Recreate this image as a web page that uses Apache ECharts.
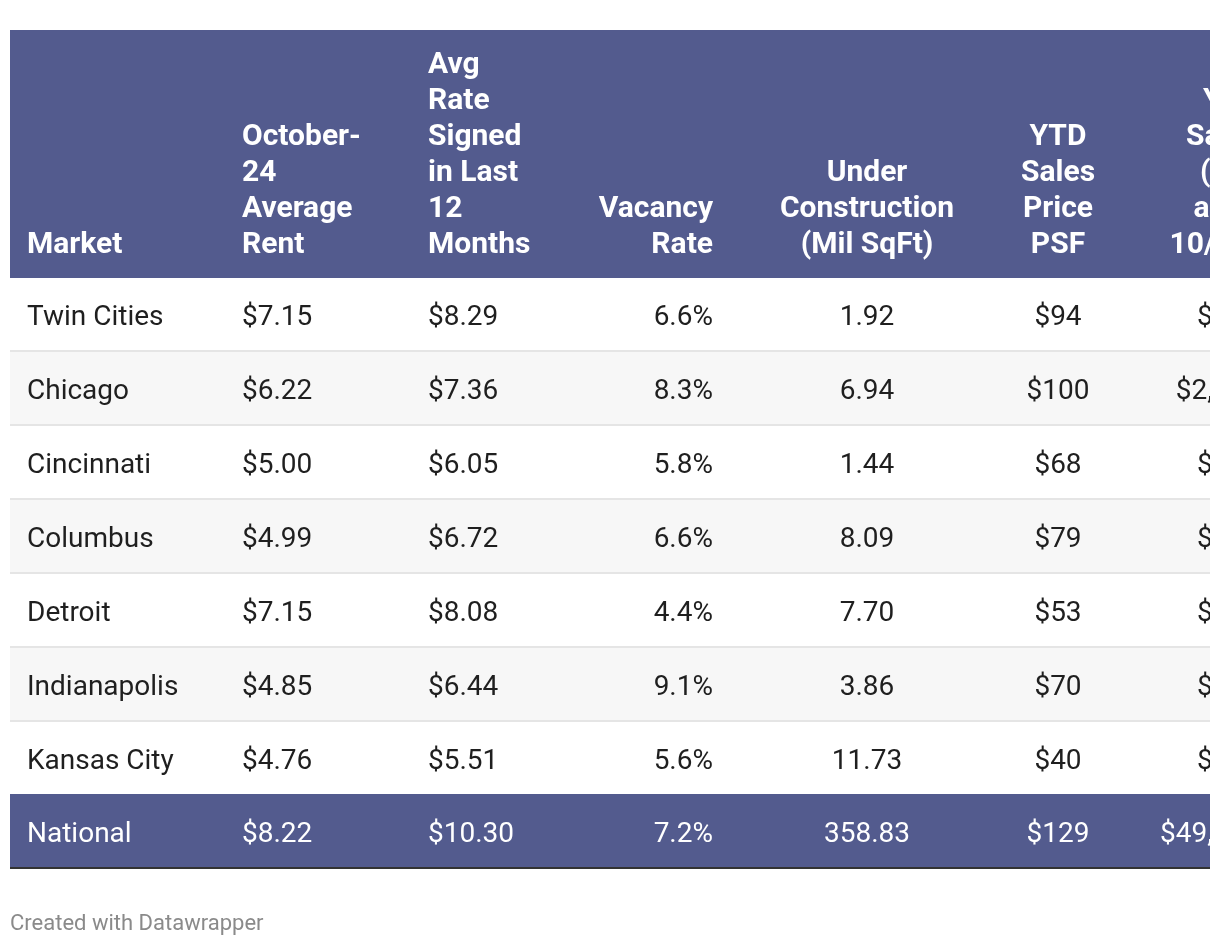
<!DOCTYPE html>
<html><head><meta charset="utf-8">
<script src="https://cdn.jsdelivr.net/npm/echarts@6/dist/echarts.min.js"></script>
<style>html,body{margin:0;padding:0;background:#fff;} #c{width:1210px;height:946px;}</style>
</head><body><div id="c"></div>
<script>
// ---- data ----
const headers = ['Market', 'October-\n24\nAverage\nRent', 'Avg\nRate\nSigned\nin Last\n12\nMonths', 'Vacancy\nRate', 'Under\nConstruction\n(Mil SqFt)', 'YTD\nSales\nPrice\nPSF', 'YTD\nSales\n(Mil,\nas of\n10/31)'];
const markets = ['Twin Cities', 'Chicago', 'Cincinnati', 'Columbus', 'Detroit', 'Indianapolis', 'Kansas City', 'National'];
const avgRent = [7.15, 6.22, 5.00, 4.99, 7.15, 4.85, 4.76, 8.22];
const avgRate12 = [8.29, 7.36, 6.05, 6.72, 8.08, 6.44, 5.51, 10.30];
const vacancy = [6.6, 8.3, 5.8, 6.6, 4.4, 9.1, 5.6, 7.2];
const underConstruction = [1.92, 6.94, 1.44, 8.09, 7.70, 3.86, 11.73, 358.83];
const ytdPricePsf = [94, 100, 68, 79, 53, 70, 40, 129];
const ytdSales = [512, 2135, 398, 621, 436, 587, 472, 49231]; // mostly cut off in the reference

// ---- layout / style ----
const TABLE_W = 1400;
const HEADER_H = 248;
const ROW_H = 74;
const TOTAL_H = HEADER_H + ROW_H * markets.length;
const COLS = [
  {x: 17, align: 'left'},
  {x: 232, align: 'left'},
  {x: 418, align: 'left'},
  {x: 703, align: 'right'},
  {x: 857, align: 'center'},
  {x: 1048, align: 'center'},
  {x: 1250, align: 'right'}
];
const HEADER_BG = '#535b8e';
const ALT_BG = '#f7f7f7';
const SEP = '#e5e5e5';
const TEXT = '#1f1f1f';
const FONT = '28px Roboto';
const BFONT = 'bold 30px Roboto';

function cells(i) {
  return [
    markets[i],
    '$' + avgRent[i].toFixed(2),
    '$' + avgRate12[i].toFixed(2),
    vacancy[i].toFixed(1) + '%',
    underConstruction[i].toFixed(2),
    '$' + ytdPricePsf[i],
    '$' + ytdSales[i].toLocaleString('en-US')
  ];
}

function renderItem(params, api) {
  const idx = api.value(0);
  const children = [];
  if (idx === 0) {
    const p0 = api.coord([0, 0]);
    const p1 = api.coord([TABLE_W, HEADER_H]);
    children.push({type: 'rect', shape: {x: p0[0], y: p0[1], width: p1[0] - p0[0], height: p1[1] - p0[1]}, style: {fill: HEADER_BG}});
    headers.forEach((h, c) => {
      const pt = api.coord([COLS[c].x, HEADER_H - 15]);
      children.push({type: 'text', style: {text: h, x: pt[0], y: pt[1], align: COLS[c].align, verticalAlign: 'bottom', font: BFONT, fill: '#fff', lineHeight: 36}});
    });
  } else {
    const r = idx - 1;
    const isNat = r === markets.length - 1;
    const top = HEADER_H + r * ROW_H - (isNat ? 2 : 0);
    const h = ROW_H;
    const p0 = api.coord([0, top]);
    const p1 = api.coord([TABLE_W, top + h]);
    const bg = isNat ? HEADER_BG : (r % 2 === 1 ? ALT_BG : '#ffffff');
    children.push({type: 'rect', shape: {x: p0[0], y: p0[1], width: p1[0] - p0[0], height: p1[1] - p0[1]}, style: {fill: bg}});
    if (!isNat && r < markets.length - 2) {
      children.push({type: 'rect', shape: {x: p0[0], y: p1[1] - 2, width: p1[0] - p0[0], height: 2}, style: {fill: SEP}});
    }
    if (isNat) {
      children.push({type: 'rect', shape: {x: p0[0], y: p1[1] - 1, width: p1[0] - p0[0], height: 2}, style: {fill: '#333333'}});
    }
    const vals = cells(r);
    vals.forEach((v, c) => {
      const pt = api.coord([COLS[c].x, top + h / 2 + (isNat ? 4 : 3)]);
      children.push({type: 'text', style: {text: v, x: pt[0], y: pt[1], align: COLS[c].align, verticalAlign: 'middle', font: FONT, fill: isNat ? '#ffffff' : TEXT}});
    });
  }
  return {type: 'group', children};
}

const chart = echarts.init(document.getElementById('c'), null, {renderer: 'canvas'});
const rows = [];
for (let i = 0; i <= markets.length; i++) rows.push([i]);
chart.setOption({
  backgroundColor: '#ffffff',
  animation: false,
  title: {
    text: 'Created with Datawrapper', left: 10, top: 913, padding: 0,
    textStyle: {fontFamily: 'Roboto', fontSize: 22, fontWeight: 'normal', color: '#8a8a8a'}
  },
  grid: {left: 10, right: 0, top: 30, height: TOTAL_H},
  xAxis: {type: 'value', min: 0, max: 1200, show: false},
  yAxis: {type: 'value', min: 0, max: TOTAL_H, inverse: true, show: false},
  series: [{type: 'custom', renderItem: renderItem, data: rows, silent: true, clip: false}]
});
</script></body></html>
